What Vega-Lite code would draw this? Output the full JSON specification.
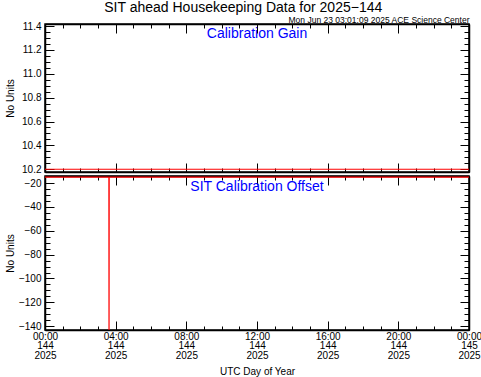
{
  "$schema": "https://vega.github.io/schema/vega-lite/v6.json",
  "background": "white",
  "padding": {"left": 4, "top": 0, "right": 0, "bottom": 0},
  "spacing": -4,
  "title": {"text": "SIT ahead Housekeeping Data for 2025−144", "fontSize": 14, "fontWeight": "normal", "font": "Liberation Sans", "anchor": "middle", "offset": 0, "color": "black"},
  "config": {
    "font": "Liberation Sans",
    "view": {"stroke": "black", "strokeWidth": 1.5},
    "axis": {"grid": false, "labelFlush": false, "labelOverlap": false, "domainColor": "black", "domainWidth": 1.5, "tickColor": "black", "labelColor": "black", "labelFont": "Liberation Sans", "labelFontSize": 10, "titleFont": "Liberation Sans", "titleFontSize": 10, "titleFontWeight": "normal", "titleColor": "black"}
  },
  "datasets": {
    "gain": [
      {"time": "2025-05-24T00:00:00Z", "gain": 10.2},
      {"time": "2025-05-24T03:00:00Z", "gain": 10.2},
      {"time": "2025-05-24T06:00:00Z", "gain": 10.2},
      {"time": "2025-05-24T09:00:00Z", "gain": 10.2},
      {"time": "2025-05-24T12:00:00Z", "gain": 10.2},
      {"time": "2025-05-24T15:00:00Z", "gain": 10.2},
      {"time": "2025-05-24T18:00:00Z", "gain": 10.2},
      {"time": "2025-05-24T21:00:00Z", "gain": 10.2},
      {"time": "2025-05-25T00:00:00Z", "gain": 10.2}
    ],
    "offset": [
      {"time": "2025-05-24T00:00:00Z", "offset": -15},
      {"time": "2025-05-24T03:00:00Z", "offset": -15},
      {"time": "2025-05-24T03:37:00Z", "offset": -15},
      {"time": "2025-05-24T03:37:30Z", "offset": -160},
      {"time": "2025-05-24T03:38:00Z", "offset": -15},
      {"time": "2025-05-24T06:00:00Z", "offset": -15},
      {"time": "2025-05-24T12:00:00Z", "offset": -15},
      {"time": "2025-05-24T18:00:00Z", "offset": -15},
      {"time": "2025-05-25T00:00:00Z", "offset": -15}
    ],
    "gainLabel": [{"label": "Calibration Gain"}],
    "offsetLabel": [{"label": "SIT Calibration Offset"}]
  },
  "vconcat": [
    {
      "width": 424,
      "height": 148,
      "title": {"text": "Mon Jun 23 03:01:09 2025 ACE Science Center", "anchor": "end", "fontSize": 8.5, "fontWeight": "normal", "font": "Liberation Sans", "offset": -3, "color": "black"},
      "layer": [
        {
          "data": {"name": "gain"},
          "mark": {"type": "line", "color": "red", "strokeWidth": 1.2, "clip": true},
          "encoding": {
            "x": {"field": "time", "type": "temporal", "scale": {"type": "utc", "domain": [1748044800000, 1748131200000]},
              "axis": {"orient": "bottom", "title": null, "labels": false, "values": [1748044800000,1748048400000,1748052000000,1748055600000,1748059200000,1748062800000,1748066400000,1748070000000,1748073600000,1748077200000,1748080800000,1748084400000,1748088000000,1748091600000,1748095200000,1748098800000,1748102400000,1748106000000,1748109600000,1748113200000,1748116800000,1748120400000,1748124000000,1748127600000,1748131200000],
                "tickSize": {"condition": {"test": "utchours(datum.value) % 4 == 0", "value": -9}, "value": -4}}},
            "y": {"field": "gain", "type": "quantitative", "scale": {"domain": [10.177, 11.417], "zero": false, "nice": false},
              "axis": {"orient": "left", "title": "No Units", "titleX": -30, "labelPadding": 13, "values": [10.2,10.25,10.3,10.35,10.4,10.45,10.5,10.55,10.6,10.65,10.7,10.75,10.8,10.85,10.9,10.95,11.0,11.05,11.1,11.15,11.2,11.25,11.3,11.35,11.4],
                "labelExpr": "abs(datum.value*5 - round(datum.value*5)) < 0.001 ? format(datum.value, '.1f') : ''",
                "tickSize": {"condition": {"test": "abs(datum.value*5 - round(datum.value*5)) < 0.001", "value": -9}, "value": -5}}}
          }
        },
        {
          "data": {"name": "gain"},
          "mark": {"type": "line", "opacity": 0},
          "encoding": {
            "x": {"field": "time", "type": "temporal",
              "axis": {"orient": "top", "title": null, "labels": false, "values": [1748044800000,1748048400000,1748052000000,1748055600000,1748059200000,1748062800000,1748066400000,1748070000000,1748073600000,1748077200000,1748080800000,1748084400000,1748088000000,1748091600000,1748095200000,1748098800000,1748102400000,1748106000000,1748109600000,1748113200000,1748116800000,1748120400000,1748124000000,1748127600000,1748131200000],
                "tickSize": {"condition": {"test": "utchours(datum.value) % 4 == 0", "value": -9}, "value": -4}}},
            "y": {"field": "gain", "type": "quantitative",
              "axis": {"orient": "right", "title": null, "labels": false, "values": [10.2,10.25,10.3,10.35,10.4,10.45,10.5,10.55,10.6,10.65,10.7,10.75,10.8,10.85,10.9,10.95,11.0,11.05,11.1,11.15,11.2,11.25,11.3,11.35,11.4],
                "tickSize": {"condition": {"test": "abs(datum.value*5 - round(datum.value*5)) < 0.001", "value": -9}, "value": -5}}}
          }
        },
        {
          "data": {"name": "gainLabel"},
          "mark": {"type": "text", "color": "blue", "fontSize": 14, "font": "Liberation Sans", "align": "center", "baseline": "middle"},
          "encoding": {
            "x": {"datum": 1748088000000, "type": "temporal", "axis": null},
            "y": {"datum": 11.335, "type": "quantitative", "axis": null},
            "text": {"field": "label"}
          }
        }
      ],
      "resolve": {"axis": {"x": "independent", "y": "independent"}}
    },
    {
      "width": 424,
      "height": 154,
      "layer": [
        {
          "data": {"name": "offset"},
          "mark": {"type": "line", "color": "red", "strokeWidth": 1.2, "clip": true},
          "encoding": {
            "x": {"field": "time", "type": "temporal", "scale": {"type": "utc", "domain": [1748044800000, 1748131200000]},
              "axis": {"orient": "bottom", "title": "UTC Day of Year", "titlePadding": 6, "labelFontSize": 10, "labelLineHeight": 9.5, "labelPadding": 10, "values": [1748044800000,1748048400000,1748052000000,1748055600000,1748059200000,1748062800000,1748066400000,1748070000000,1748073600000,1748077200000,1748080800000,1748084400000,1748088000000,1748091600000,1748095200000,1748098800000,1748102400000,1748106000000,1748109600000,1748113200000,1748116800000,1748120400000,1748124000000,1748127600000,1748131200000],
                "labelExpr": "utchours(datum.value) % 4 == 0 ? [utcFormat(datum.value, '%H:%M'), utcFormat(datum.value, '%j'), utcFormat(datum.value, '%Y')] : ''",
                "tickSize": {"condition": {"test": "utchours(datum.value) % 4 == 0", "value": -9}, "value": -4}}},
            "y": {"field": "offset", "type": "quantitative", "scale": {"domain": [-143.2, -14.1], "zero": false, "nice": false},
              "axis": {"orient": "left", "title": "No Units", "titleX": -30, "labelPadding": 13, "values": [-20,-25,-30,-35,-40,-45,-50,-55,-60,-65,-70,-75,-80,-85,-90,-95,-100,-105,-110,-115,-120,-125,-130,-135,-140],
                "labelExpr": "datum.value % 20 == 0 ? format(datum.value, 'd') : ''",
                "tickSize": {"condition": {"test": "datum.value % 20 == 0", "value": -9}, "value": -5}}}
          }
        },
        {
          "data": {"name": "offset"},
          "mark": {"type": "line", "opacity": 0},
          "encoding": {
            "x": {"field": "time", "type": "temporal",
              "axis": {"orient": "top", "title": null, "labels": false, "values": [1748044800000,1748048400000,1748052000000,1748055600000,1748059200000,1748062800000,1748066400000,1748070000000,1748073600000,1748077200000,1748080800000,1748084400000,1748088000000,1748091600000,1748095200000,1748098800000,1748102400000,1748106000000,1748109600000,1748113200000,1748116800000,1748120400000,1748124000000,1748127600000,1748131200000],
                "tickSize": {"condition": {"test": "utchours(datum.value) % 4 == 0", "value": -9}, "value": -4}}},
            "y": {"field": "offset", "type": "quantitative",
              "axis": {"orient": "right", "title": null, "labels": false, "values": [-20,-25,-30,-35,-40,-45,-50,-55,-60,-65,-70,-75,-80,-85,-90,-95,-100,-105,-110,-115,-120,-125,-130,-135,-140],
                "tickSize": {"condition": {"test": "datum.value % 20 == 0", "value": -9}, "value": -5}}}
          }
        },
        {
          "data": {"name": "offsetLabel"},
          "mark": {"type": "text", "color": "blue", "fontSize": 14, "font": "Liberation Sans", "align": "center", "baseline": "middle"},
          "encoding": {
            "x": {"datum": 1748088000000, "type": "temporal", "axis": null},
            "y": {"datum": -23.3, "type": "quantitative", "axis": null},
            "text": {"field": "label"}
          }
        }
      ],
      "resolve": {"axis": {"x": "independent", "y": "independent"}}
    }
  ]
}
